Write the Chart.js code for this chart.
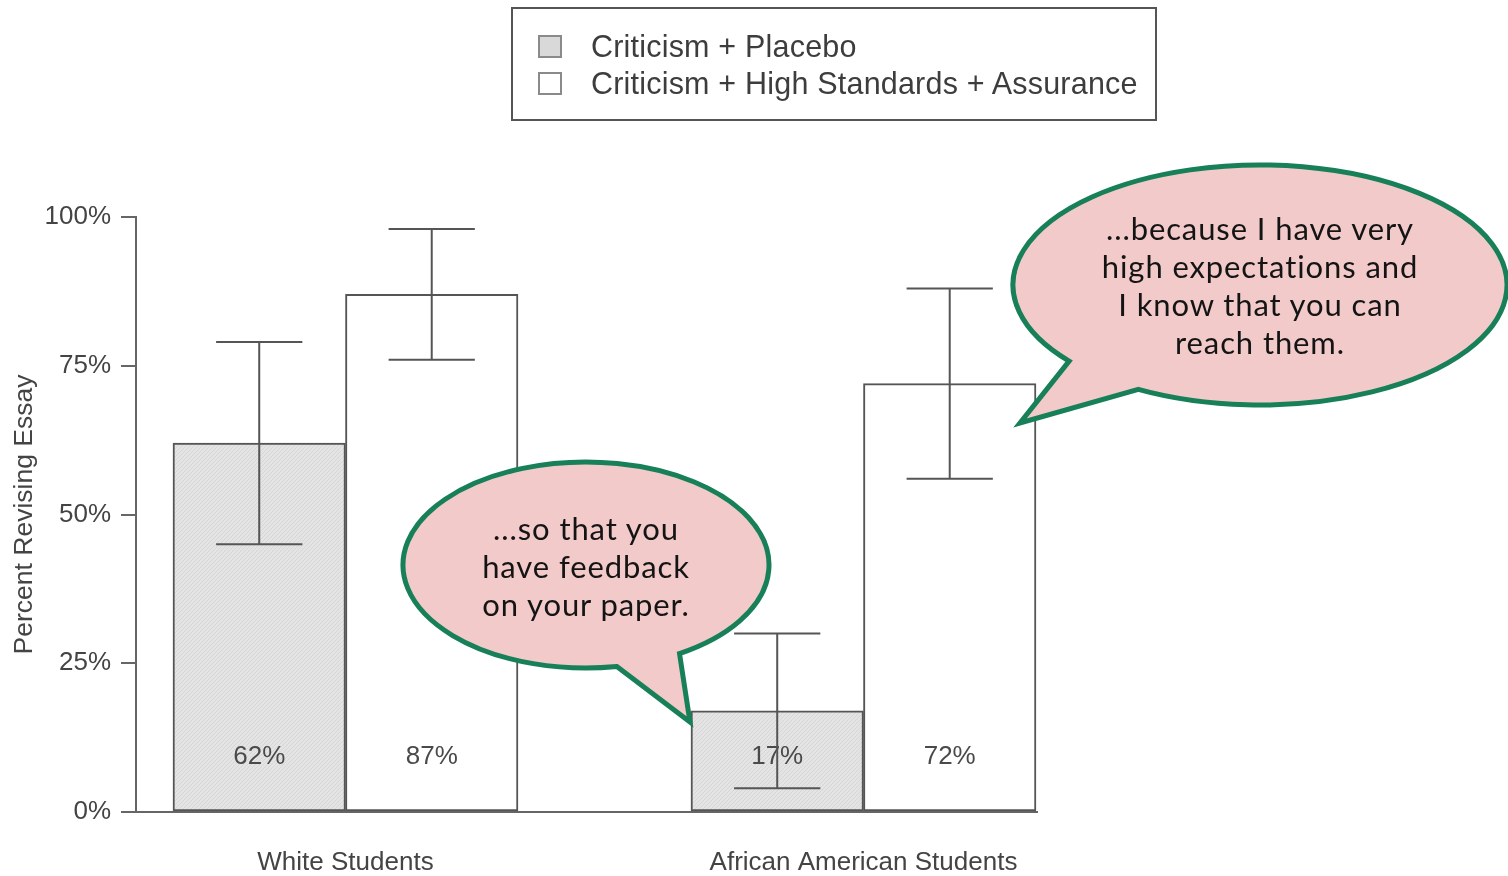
<!DOCTYPE html>
<html>
<head>
<meta charset="utf-8">
<script src="https://cdn.jsdelivr.net/npm/chart.js@4.4.1/dist/chart.umd.min.js"></script>
<style>
  html, body { margin: 0; padding: 0; background: #fff; }
  #wrap { position: relative; width: 1508px; height: 876px; overflow: hidden; }
  #chart, #overlay { position: absolute; left: 0; top: 0; }
  .leg { font-family: 'Liberation Sans', Arial, sans-serif; font-size: 30.5px; fill: #3d3d3d; letter-spacing: 0.2px; }
  .say { font-family: Lato, 'Open Sans', sans-serif; font-size: 31px; fill: #141414; letter-spacing: 0.9px; }
</style>
</head>
<body>
<div id="wrap">
  <canvas id="chart" width="1508" height="876"></canvas>
  <svg id="overlay" width="1508" height="876" xmlns="http://www.w3.org/2000/svg"></svg>
</div>
<script>
// ── Data ──────────────────────────────────────────────────
const GROUPS      = ['White Students', 'African American Students'];
const SERIES      = ['Criticism + Placebo', 'Criticism + High Standards + Assurance'];
const PLACEBO     = [62, 17];
const PLACEBO_LO  = [45, 4];
const PLACEBO_HI  = [79, 30];
const HSA         = [87, 72];
const HSA_LO      = [76, 56];
const HSA_HI      = [98, 88];
const Y_TICKS     = [0, 25, 50, 75, 100];
const BUBBLE_LEFT  = ['...so that you', 'have feedback', 'on your paper.'];
const BUBBLE_RIGHT = ['...because I have very', 'high expectations and', 'I know that you can', 'reach them.'];

const FONT = "'Liberation Sans', Arial, sans-serif";
const INK  = '#555';

// light grey hatched fill for the placebo bars
function hatch() {
  const c = document.createElement('canvas');
  c.width = 4; c.height = 4;
  const g = c.getContext('2d');
  g.fillStyle = '#e4e4e4'; g.fillRect(0, 0, 4, 4);
  g.fillStyle = '#d6d6d6';
  for (let i = 0; i < 4; i++) g.fillRect(i, 3 - i, 1, 1);
  return g.createPattern(c, 'repeat');
}

// ── Error bars + value labels ─────────────────────────────
const ERRORS = [[PLACEBO_LO, PLACEBO_HI], [HSA_LO, HSA_HI]];
const barExtras = {
  id: 'barExtras',
  afterDatasetsDraw(chart) {
    const { ctx, scales: { y } } = chart;
    ctx.save();
    // value labels first, error bars drawn over them
    ctx.font = `26px ${FONT}`;
    ctx.fillStyle = '#4a4a4a';
    ctx.textAlign = 'center';
    ctx.textBaseline = 'middle';
    chart.data.datasets.forEach((ds, d) => {
      chart.getDatasetMeta(d).data.forEach((bar, i) => {
        ctx.fillText(ds.data[i].y + '%', bar.x, y.getPixelForValue(0) - 55);
      });
    });
    ctx.strokeStyle = INK;
    ctx.lineWidth = 2;
    chart.data.datasets.forEach((ds, d) => {
      const [lo, hi] = ERRORS[d];
      chart.getDatasetMeta(d).data.forEach((bar, i) => {
        const yl = y.getPixelForValue(lo[i]);
        const yh = y.getPixelForValue(hi[i]);
        const cap = bar.width / 4;
        ctx.beginPath();
        ctx.moveTo(bar.x, yl); ctx.lineTo(bar.x, yh);
        ctx.moveTo(bar.x - cap, yl); ctx.lineTo(bar.x + cap, yl);
        ctx.moveTo(bar.x - cap, yh); ctx.lineTo(bar.x + cap, yh);
        ctx.stroke();
      });
    });
    ctx.restore();
  }
};

new Chart(document.getElementById('chart'), {
  type: 'bar',
  data: {
    datasets: [
      {
        label: SERIES[0],
        data: GROUPS.map((g, i) => ({ x: i, y: PLACEBO[i] })),
        backgroundColor: hatch(),
        borderColor: INK,
        borderWidth: 2,
        borderSkipped: false,
      },
      {
        label: SERIES[1],
        data: GROUPS.map((g, i) => ({ x: i, y: HSA[i] })),
        backgroundColor: '#ffffff',
        borderColor: INK,
        borderWidth: 2,
        borderSkipped: false,
      }
    ]
  },
  options: {
    responsive: false,
    animation: false,
    barThickness: 172.5,
    layout: { padding: { top: 217, right: 471, left: 0, bottom: 0 } },
    plugins: { legend: { display: false }, tooltip: { enabled: false } },
    scales: {
      x: {
        type: 'linear',
        offset: false,
        min: -0.4044,
        max: 1.335,
        afterBuildTicks: s => { s.ticks = GROUPS.map((g, i) => ({ value: i })); },
        afterFit: s => { s.height = 64; },
        grid: { display: false, drawTicks: false },
        border: { display: true, color: '#666', width: 2 },
        ticks: {
          autoSkip: false, maxRotation: 0, padding: 35,
          color: '#444', font: { family: FONT, size: 26 },
          callback: v => GROUPS[v]
        }
      },
      y: {
        min: 0,
        max: 100,
        afterBuildTicks: s => { s.ticks = Y_TICKS.map(v => ({ value: v })); },
        afterFit: s => { s.width = 136; },
        grid: { drawOnChartArea: false, drawTicks: true, tickLength: 15, color: '#666', lineWidth: 2 },
        border: { display: true, color: '#666', width: 2 },
        ticks: {
          padding: 10, color: '#444', font: { family: FONT, size: 26 },
          callback: v => v + '%'
        },
        title: {
          display: true, text: 'Percent Revising Essay',
          color: '#444', font: { family: FONT, size: 26.5 },
          padding: { top: 9, bottom: 0 }
        }
      }
    }
  },
  plugins: [barExtras]
});

// ── Legend box and speech bubbles (SVG overlay) ───────────
const NS = 'http://www.w3.org/2000/svg';
const svg = document.getElementById('overlay');
function el(tag, attrs, text) {
  const e = document.createElementNS(NS, tag);
  for (const k in attrs) e.setAttribute(k, attrs[k]);
  if (text != null) e.textContent = text;
  svg.appendChild(e);
  return e;
}

el('rect', { x: 512, y: 8, width: 644, height: 112, fill: 'none', stroke: '#555', 'stroke-width': 2 });
el('rect', { x: 539, y: 36, width: 22, height: 21, fill: '#d9d9d9', stroke: '#8a8a8a', 'stroke-width': 2 });
el('rect', { x: 539, y: 73, width: 22, height: 21, fill: '#ffffff', stroke: '#8a8a8a', 'stroke-width': 2 });
el('text', { x: 591, y: 57, class: 'leg' }, SERIES[0]);
el('text', { x: 591, y: 94, class: 'leg' }, SERIES[1]);

function onEllipse(cx, cy, rx, ry, p) {
  const a = Math.atan2((p[1] - cy) / ry, (p[0] - cx) / rx);
  return [cx + rx * Math.cos(a), cy + ry * Math.sin(a)];
}
function bubble(cx, cy, rx, ry, b1, tip, b2, lines, firstBase, step) {
  const p1 = onEllipse(cx, cy, rx, ry, b1);
  const p2 = onEllipse(cx, cy, rx, ry, b2);
  const d = `M${p1[0]},${p1[1]} L${tip[0]},${tip[1]} L${p2[0]},${p2[1]} ` +
            `A${rx},${ry} 0 1 0 ${p1[0]},${p1[1]} Z`;
  el('path', { d, fill: '#f3caca', stroke: '#188058', 'stroke-width': 5, 'stroke-linejoin': 'miter' });
  lines.forEach((t, i) => {
    el('text', { x: cx, y: firstBase + i * step, 'text-anchor': 'middle', class: 'say' }, t);
  });
}
bubble(586, 565, 183, 103, [617, 667], [690, 722], [680, 654], BUBBLE_LEFT, 540, 38);
bubble(1260, 285, 247, 120, [1072, 360], [1020, 423], [1140, 388], BUBBLE_RIGHT, 240, 38);
</script>
</body>
</html>
